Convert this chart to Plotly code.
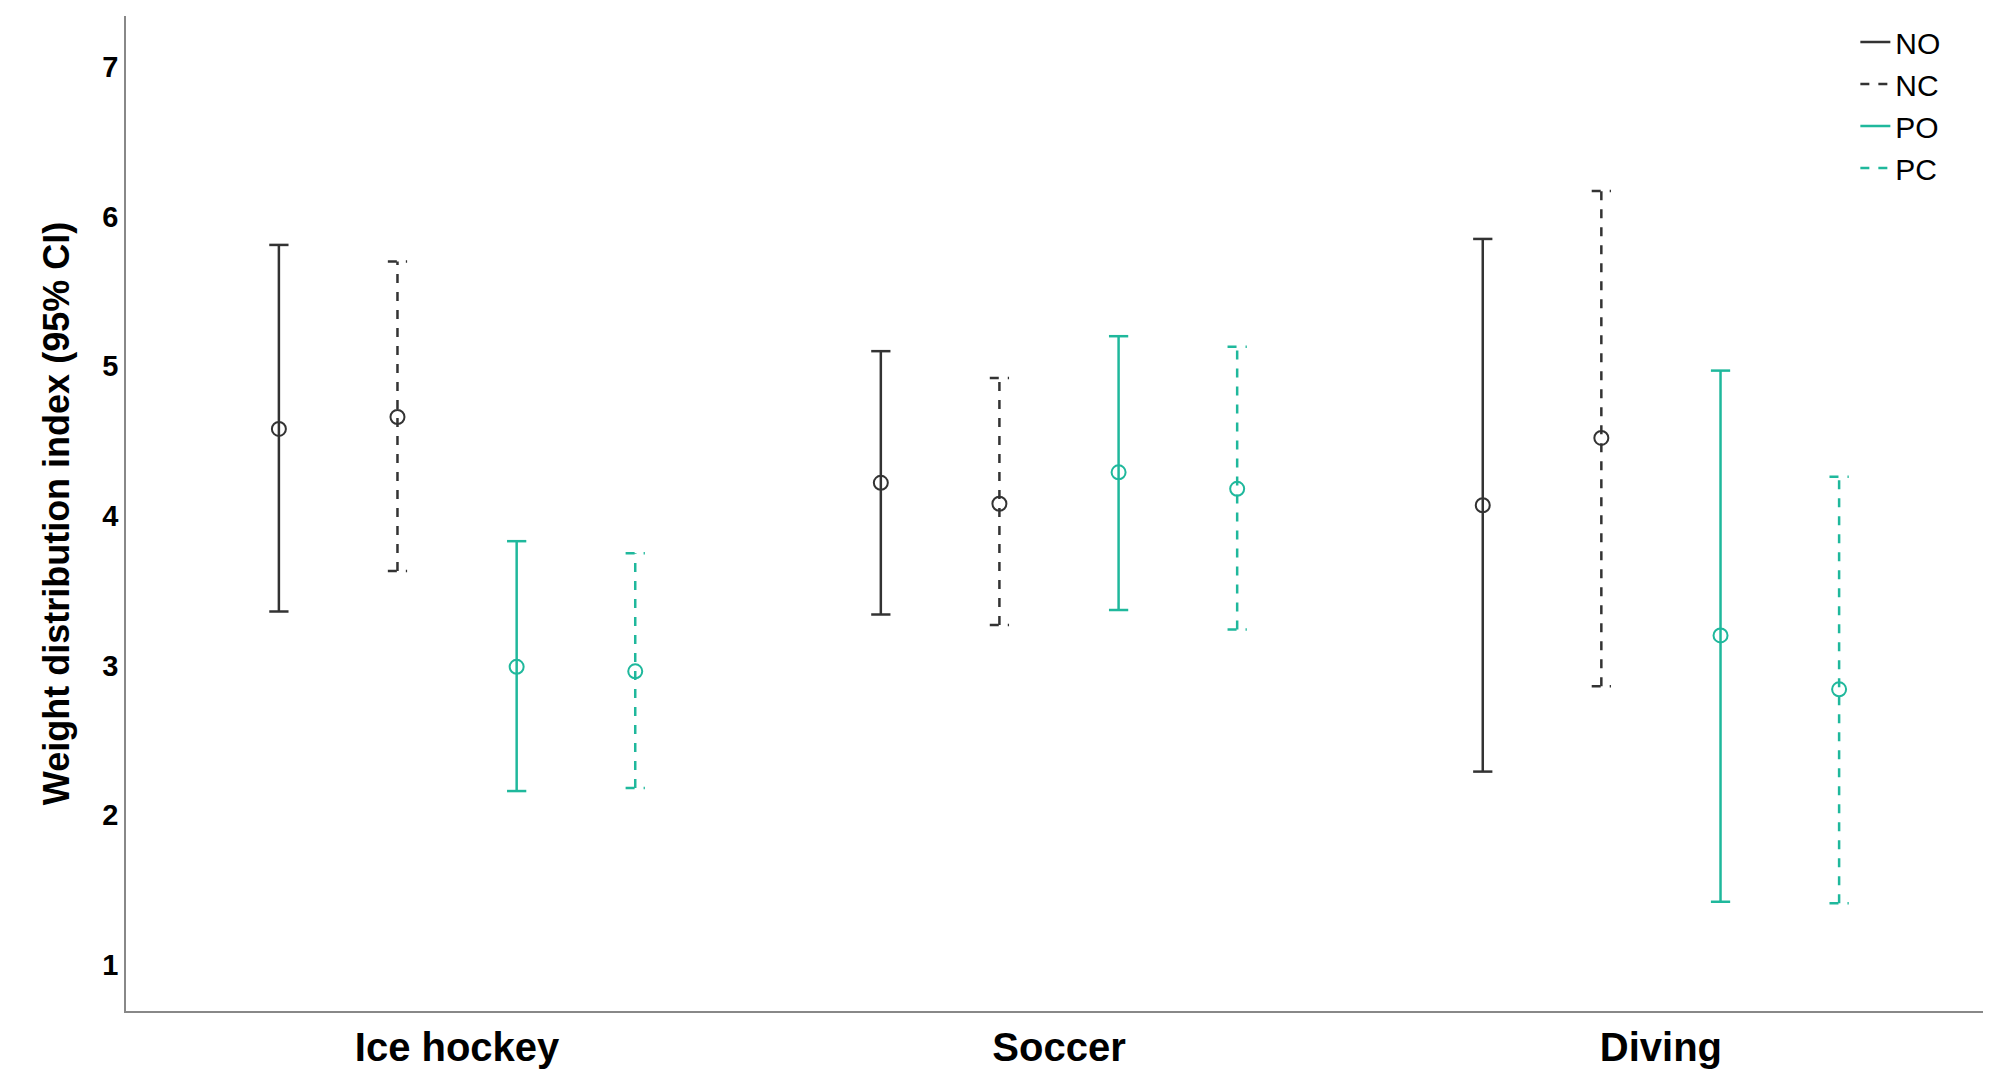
import plotly.graph_objects as go

categories = ["Ice hockey", "Soccer", "Diving"]
series = ["NO", "NC", "PO", "PC"]
means = {"NO": [4.58, 4.22, 4.07], "NC": [4.66, 4.08, 4.52],
         "PO": [2.99, 4.29, 3.20], "PC": [2.96, 4.18, 2.84]}
lows = {"NO": [3.36, 3.34, 2.29], "NC": [3.63, 3.27, 2.86],
        "PO": [2.16, 3.37, 1.42], "PC": [2.18, 3.24, 1.41]}
highs = {"NO": [5.81, 5.10, 5.85], "NC": [5.70, 4.92, 6.17],
         "PO": [3.83, 5.20, 4.97], "PC": [3.75, 5.13, 4.26]}

offsets = {"NO": -0.296, "NC": -0.099, "PO": 0.099, "PC": 0.296}
colors = {"NO": "#333333", "NC": "#333333", "PO": "#1fb89c", "PC": "#1fb89c"}
dashes = {"NO": "solid", "NC": "dash", "PO": "solid", "PC": "dash"}
cap = 0.016

fig = go.Figure()
for s in series:
    xs, ys = [], []
    for i in range(len(categories)):
        x = i + offsets[s]
        xs += [x, x, None, x - cap, x + cap, None, x - cap, x + cap, None]
        ys += [lows[s][i], highs[s][i], None, lows[s][i], lows[s][i], None, highs[s][i], highs[s][i], None]
    fig.add_trace(go.Scatter(x=xs, y=ys, mode="lines", name=s,
                             line=dict(color=colors[s], width=2.5, dash=dashes[s])))
    fig.add_trace(go.Scatter(x=[i + offsets[s] for i in range(len(categories))], y=means[s],
                             mode="markers", showlegend=False,
                             marker=dict(symbol="circle-open", size=14, color=colors[s],
                                         line=dict(width=2, color=colors[s]))))

fig.update_layout(
    width=1991, height=1091, plot_bgcolor="white", paper_bgcolor="white",
    margin=dict(l=118, r=7, t=8, b=88),
    font=dict(family="Liberation Sans, Arial", color="black"),
    legend=dict(x=0.975, y=1.0, xanchor="right", yanchor="top", font=dict(size=30),
                bgcolor="rgba(0,0,0,0)", tracegroupgap=0),
    showlegend=True,
)
fig.update_xaxes(range=[-0.55, 2.55], tickvals=[0, 1, 2], ticktext=["<b>%s</b>" % c for c in categories],
                 tickfont=dict(size=40), ticks="",
                 showgrid=False, zeroline=False, showline=True, linecolor="#888", linewidth=1.5)
fig.update_yaxes(range=[0.69, 7.34], tickvals=[1, 2, 3, 4, 5, 6, 7],
                 ticktext=["<b>%d</b>" % v for v in [1, 2, 3, 4, 5, 6, 7]],
                 tickfont=dict(size=29), ticks="", showgrid=False, zeroline=False,
                 showline=True, linecolor="#888", linewidth=1.5,
                 title=dict(text="<b>Weight distribution index (95% CI)</b>", font=dict(size=36), standoff=22))
fig.write_html("out.html")
